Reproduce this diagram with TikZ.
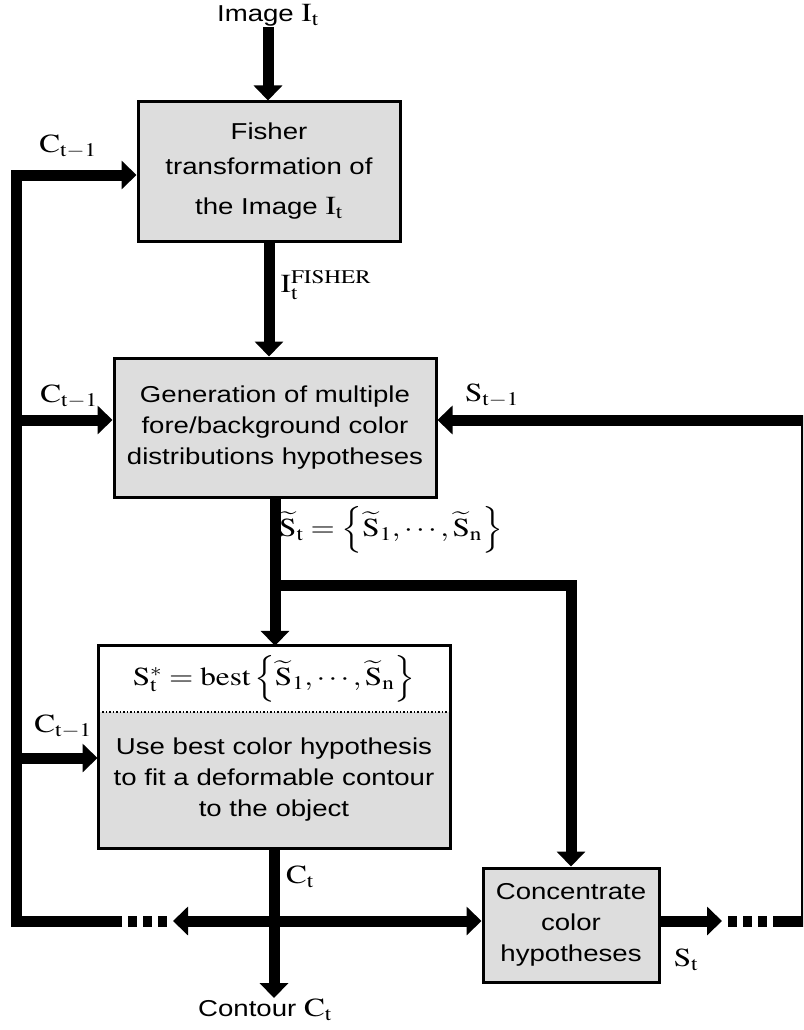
\documentclass[tikz,border=0pt]{standalone}
\usepackage{mathptmx}
\usepackage[no-math]{fontspec}
\setmainfont{Liberation Sans}[FakeStretch=1.2]
\usepackage{graphicx}
\usetikzlibrary{arrows.meta,positioning}
\definecolor{boxgray}{RGB}{221,221,221}
\newcommand{\mlbl}[1]{\scalebox{1.2}[1]{\fontsize{26}{28}\selectfont$#1$}}

\begin{document}
\begin{tikzpicture}[x=1pt,y=-1pt,>={Triangle[length=15pt,width=28pt]},
    box/.style={draw,line width=3pt,fill=boxgray,align=center,inner sep=0pt,font=\fontsize{23}{31}\selectfont},
    lbl/.style={inner sep=1pt,font=\fontsize{23}{28}\selectfont},
    flow/.style={line width=11pt,->},
    dots/.style={line width=11pt,dash pattern=on 9pt off 6pt}]
    \useasboundingbox (0,0) rectangle (803,1030);
    \clip (0,0) rectangle (803,1030);

    % blocks
    \node[box,minimum width=262pt,minimum height=139pt,font=\fontsize{23}{35}\selectfont] (fisher) at (269,171.5) {Fisher\\transformation of\\[5pt]the Image \mlbl{\mathrm{I}_{\mathrm{t}}}};
    \node[box,minimum width=322pt,minimum height=139pt] (gen) at (275,427.5) {Generation of multiple\\fore/background color\\distributions hypotheses};
    \node[fill=white,minimum width=350pt,minimum height=66pt,inner sep=0pt] (best) at (274,679) {\mlbl{\mathrm{S}^{*}_{\mathrm{t}} = \mathrm{best}\left\{\widetilde{\mathrm{S}}_{1},\cdots,\widetilde{\mathrm{S}}_{\mathrm{n}}\right\}}};
    \node[box,draw=none,minimum width=350pt,minimum height=135pt] (fit) at (274,779.5) {Use best color hypothesis\\to fit a deformable contour\\to the object};
    \draw[line width=3pt] (best.north west) rectangle (fit.south east);
    \draw[dotted,line width=1.5pt] (best.south west) -- (best.south east);
    \node[box,minimum width=176pt,minimum height=114pt] (conc) at (571,925) {Concentrate\\color\\hypotheses};

    % labels
    \node[lbl] (img) at (268,15) {Image \mlbl{\mathrm{I}_{\mathrm{t}}}};
    \node[lbl] (contour) at (265,1010) {Contour \mlbl{\mathrm{C}_{\mathrm{t}}}};
    \node[lbl] (cprev1) at (68,147) {\mlbl{\mathrm{C}_{\mathrm{t}-1}}};
    \node[lbl] (cprev2) at (69,397) {\mlbl{\mathrm{C}_{\mathrm{t}-1}}};
    \node[lbl] (cprev3) at (63,727) {\mlbl{\mathrm{C}_{\mathrm{t}-1}}};
    \node[lbl] (sprev) at (492,396) {\mlbl{\mathrm{S}_{\mathrm{t}-1}}};
    \node[lbl] (ifisher) at (326,285) {\mlbl{\mathrm{I}_{\mathrm{t}}^{\mathrm{FISHER}}}};
    \node[lbl] (stilde) at (391,530) {\mlbl{\widetilde{\mathrm{S}}_{\mathrm{t}} = \left\{\widetilde{\mathrm{S}}_{1},\cdots,\widetilde{\mathrm{S}}_{\mathrm{n}}\right\}}};
    \node[lbl] (ct) at (300,877) {\mlbl{\mathrm{C}_{\mathrm{t}}}};
    \node[lbl] (st) at (686,960) {\mlbl{\mathrm{S}_{\mathrm{t}}}};

    % loop points
    \coordinate (lc1) at (16,175);
    \coordinate (lc2) at (16,420);
    \coordinate (lc3) at (16,758);
    \coordinate (lb) at (16,921);
    \coordinate (lend) at (122,921);
    \coordinate (ld1) at (128,921);
    \coordinate (ld2) at (167,921);
    \coordinate (larr) at (173,921);
    \coordinate (split) at (275,585);
    \coordinate (rarr) at (722,921);
    \coordinate (rd1) at (728,921);
    \coordinate (rd2) at (767,921);
    \coordinate (rend) at (773,921);
    \coordinate (rb) at (806,921);
    \coordinate (rc) at (806,420);

    % main flow
    \draw[flow] (img.south) -- (img.south |- fisher.north);
    \draw[flow] (fisher.south) -- (fisher.south |- gen.north);
    \draw[flow] (gen.south) -- (gen.south |- best.north);
    \draw[flow] (split) -| (conc.north);
    \draw[flow] (fit.south) -- (fit.south |- contour.north);

    % feedback of the contour
    \draw[flow,line join=miter] (lend) -- (lb) -- (lc1) -- (lc1 -| fisher.west);
    \draw[flow] (lc2) -- (lc2 -| gen.west);
    \draw[flow] (lc3) -- (lc3 -| fit.west);
    \draw[dots] (ld1) -- (ld2);
    \draw[line width=11pt,<->] (larr) -- (larr -| conc.west);

    % feedback of the colour hypotheses
    \draw[flow] (larr -| conc.east) -- (rarr);
    \draw[dots] (rd1) -- (rd2);
    \draw[flow,line join=miter] (rend) -- (rb) -- (rc) -- (rc -| gen.east);
\end{tikzpicture}
\end{document}
